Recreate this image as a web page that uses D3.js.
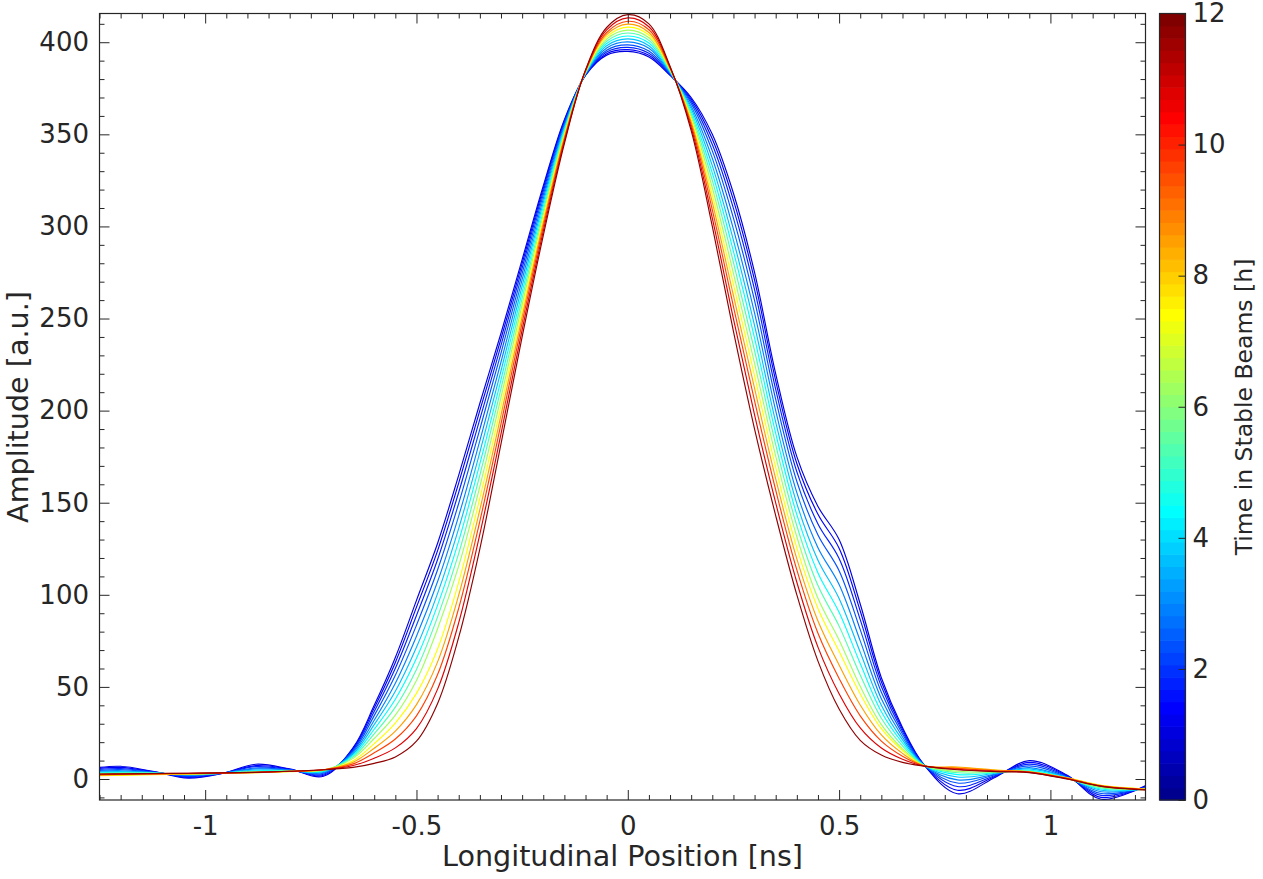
<!DOCTYPE html>
<html><head><meta charset="utf-8">
<script src="https://cdn.jsdelivr.net/npm/d3@7"></script>
<style>
body{margin:0;background:#fff;}
svg text{font-family:"DejaVu Sans",sans-serif;fill:#262626;}
</style>
</head><body>
<svg id="chart" width="1263" height="879"></svg>
<script>
// ---- data ----
const positions = [-1.25,-1.2,-1.12,-1.04,-0.96,-0.88,-0.8,-0.72,-0.65,-0.6,-0.55,-0.5,-0.45,-0.4,-0.35,-0.3,-0.25,-0.2,-0.15,-0.1,-0.05,0,0.05,0.1,0.15,0.2,0.25,0.3,0.35,0.4,0.45,0.5,0.55,0.6,0.65,0.7,0.78,0.87,0.95,1.04,1.12,1.23];
const times = [1.1,1.4,1.8,2.3,2.9,3.6,4.4,5.3,6.3,7.4,8.5,9.6,10.7,11.8];
const s01 = [6.3,6.9,4.0,0.5,3.0,8.0,5.5,1.5,17,40,66,97,128,165,204,242,282,322,358,382,393,395,392,382,370,350,318,275,220,175,148,130,95,55,28,8,-8,1,10,2,-11,-3];
const s02 = [5.8,6.3,3.9,0.9,3.0,7.3,5.3,2.0,16.5,38.5,63.3,93.3,124,160.8,200.1,239,279.9,320.7,357.4,382.2,393.8,396,392.9,382.3,369.1,347.5,314.3,270.8,216.2,171.3,143.7,125.3,91.2,52.8,27,8,-6.1,1.5,9.0,1.7,-10.0,-3.5];
const s03 = [5.2,5.7,3.7,1.3,3.1,6.7,5.1,2.6,15.9,36.6,60.1,88.8,119.2,155.7,195.4,235.4,277.4,319,356.6,382.3,394.7,397.2,394,382.6,368,344.5,309.8,265.7,211.5,166.8,138.5,119.7,86.5,50.2,25.8,7.9,-4.1,1.9,8.1,1.4,-8.9,-3.9];
const s04 = [4.7,5.1,3.6,1.7,3.1,6.0,4.9,3.1,15.2,34.4,56.3,83.5,113.6,149.7,190,231.2,274.4,317.1,355.7,382.5,395.7,398.6,395.2,382.9,366.8,341,304.5,259.7,206.1,161.5,132.5,113.1,81.1,47.1,24.4,7.8,-2.2,2.4,7.1,1.1,-7.9,-4.4];
const s05 = [4.2,4.5,3.4,2.0,3.2,5.5,4.8,3.5,14.4,31.9,52,77.5,107.2,142.9,183.7,226.4,271.1,315,354.6,382.8,396.9,400.2,396.7,383.3,365.3,337,298.5,252.9,200,155.5,125.6,105.6,75,43.6,22.8,7.7,-0.5,2.7,6.2,0.8,-6.9,-4.7];
const s06 = [3.8,4.0,3.3,2.3,3.2,4.9,4.6,4.0,13.6,29.5,47.6,71.5,100.8,136.1,177.5,221.6,267.7,312.8,353.6,383,398.1,401.8,398.1,383.7,363.9,333,292.5,246.1,193.8,149.5,118.8,98,68.8,40,21.2,7.7,1.1,3.1,5.5,0.6,-6.1,-5.1];
const s07 = [3.4,3.6,3.2,2.6,3.2,4.5,4.5,4.3,12.8,27,43.3,65.5,94.4,129.3,171.2,216.8,264.4,310.7,352.5,383.3,399.3,403.4,399.6,384.1,362.4,329,286.5,239.3,187.7,143.5,111.9,90.5,62.7,36.5,19.6,7.6,2.4,3.4,4.8,0.4,-5.4,-5.4];
const s08 = [3.1,3.3,3.1,2.8,3.3,4.1,4.4,4.6,12,24.5,39,59.5,88,122.5,165,212,261,308.5,351.5,383.5,400.5,405,401,384.5,361,325,280.5,232.5,181.5,137.5,105,83,56.5,33,18,7.5,3.4,3.6,4.3,0.2,-4.8,-5.6];
const s09 = [2.9,3.0,3.1,2.9,3.3,3.9,4.3,4.8,11.2,22,34.7,53.5,81.6,115.7,158.8,207.2,257.6,306.3,350.5,383.7,401.7,406.6,402.4,384.9,359.6,321,274.5,225.7,175.3,131.5,98.1,75.5,50.3,29.5,16.4,7.4,4.2,3.8,3.9,0.1,-4.4,-5.8];
const s10 = [1.8,2.0,2.3,2.6,3.0,3.4,4.0,4.9,9.9,19.2,30.4,46.5,70.6,106.9,152.5,202.4,254.3,304.2,349.4,384,402.9,408.2,403.9,385.3,358.1,317,268.5,218.9,169.2,125.5,92.6,69.3,46.2,27.3,15.5,7.3,6.2,4.8,3.9,0.6,-3.4,-5.4];
const s11 = [2.1,2.3,2.6,2.8,3.1,3.5,4.1,5.0,9.1,16.7,26,40.4,63.6,99.9,146.3,197.6,250.9,302,348.4,384.2,404.1,409.8,405.3,385.7,356.7,313,262.5,212.1,163,119.5,85.8,61.9,40.2,23.9,13.9,7.3,6.5,4.9,3.9,0.5,-3.6,-5.6];
const s12 = [2.4,2.5,2.8,3.0,3.2,3.6,4.2,5.0,8.2,14.2,21.7,34.3,56.7,92.8,140,192.8,247.6,299.9,347.3,384.5,405.3,411.4,406.8,386.1,355.2,309,256.5,205.3,156.9,113.5,79.1,54.6,34.3,20.6,12.4,7.2,5.8,4.5,3.7,0.3,-3.8,-5.8];
const s13 = [2.6,2.7,2.9,3.1,3.3,3.6,4.2,5.0,7.3,11.3,16.9,27.4,48.8,84.9,133,187.4,243.8,297.4,346.2,384.7,406.7,413.2,408.4,386.6,353.6,304.5,249.8,197.7,149.9,106.8,71.6,46.3,27.7,16.8,10.7,7.1,5.3,4.2,3.6,0.1,-3.9,-5.9];
const s14 = [2.7,2.8,3.0,3.1,3.3,3.6,4.2,5.0,6.3,8.5,12,20.5,41,77,125,182,240,295,345,385,408,415,410,387,352,300,243,190,143,100,64,38,21,13,9,7,5,4,3.5,0,-4,-6];
const amplitudes = [s01,s02,s03,s04,s05,s06,s07,s08,s09,s10,s11,s12,s13,s14];

const xTicks = [-1,-0.5,0,0.5,1];
const xTickLabels = ["-1","-0.5","0","0.5","1"];
const yTicks = [0,50,100,150,200,250,300,350,400];
const cbTicks = [0,2,4,6,8,10,12];
const xLabel = "Longitudinal Position [ns]";
const yLabel = "Amplitude [a.u.]";
const cbLabel = "Time in Stable Beams [h]";

// ---- MATLAB-like jet(64) colormap ----
function jetMap(m){
  const n = Math.ceil(m/4);
  const u = [];
  for(let i=1;i<=n;i++) u.push(i/n);
  for(let i=0;i<n-1;i++) u.push(1);
  for(let i=n;i>=1;i--) u.push(i/n);
  const gOff = Math.ceil(n/2) - (m%4===1?1:0);
  const J = Array.from({length:m},()=>[0,0,0]);
  u.forEach((val,k)=>{
    const g = gOff + k + 1, r = g + n, b = g - n;
    if(r<=m) J[r-1][0]=val;
    if(g<=m) J[g-1][1]=val;
    if(b>=1) J[b-1][2]=val;
  });
  return J.map(c=>d3.rgb(c[0]*255,c[1]*255,c[2]*255).formatHex());
}
const cmap = jetMap(64);
const tMax = 12;
const colorOf = t => cmap[Math.max(0,Math.min(63,Math.floor(t/tMax*64)))];

// ---- layout ----
const L=99.5, R=1145.5, T=13.5, B=800;
const svg = d3.select("#chart");
const x = d3.scaleLinear().domain([-1.25,1.225]).range([L,R]);
const y = d3.scaleLinear().domain([-11.4,415.6]).range([B,T]);
const axisCol = "#262626";

svg.append("defs").append("clipPath").attr("id","clip")
  .append("rect").attr("x",L).attr("y",T).attr("width",R-L).attr("height",B-T);

// lines
const line = d3.line().x((d,i)=>x(positions[i])).y(d=>y(d)).curve(d3.curveCatmullRom.alpha(0.5));
const gLines = svg.append("g").attr("clip-path","url(#clip)");
amplitudes.forEach((arr,k)=>{
  gLines.append("path").attr("d",line(arr)).attr("fill","none")
    .attr("stroke",colorOf(times[k])).attr("stroke-width",1.15);
});

// axes
const xMinor = d3.range(-125,123,5).map(v=>v/100).filter(v=>!xTicks.some(t=>Math.abs(t-v)<1e-9));
const yMinor = d3.range(-10,416,10).filter(v=>v%50!==0);

function styleAxis(g){
  g.select(".domain").remove();
  g.selectAll("line").attr("stroke",axisCol);
  g.selectAll("text").attr("fill",axisCol).style("font-size","26px").style("font-family","DejaVu Sans");
}
// bottom
svg.append("g").attr("transform",`translate(0,${B})`)
  .call(d3.axisBottom(x).tickValues(xTicks).tickFormat((d,i)=>xTickLabels[i]).tickSizeInner(-10).tickSizeOuter(0).tickPadding(16.5)).call(styleAxis);
svg.append("g").attr("transform",`translate(0,${B})`)
  .call(d3.axisBottom(x).tickValues(xMinor).tickFormat("").tickSizeInner(-5).tickSizeOuter(0)).call(styleAxis);
// top
svg.append("g").attr("transform",`translate(0,${T})`)
  .call(d3.axisTop(x).tickValues(xTicks).tickFormat("").tickSizeInner(-10).tickSizeOuter(0)).call(styleAxis);
svg.append("g").attr("transform",`translate(0,${T})`)
  .call(d3.axisTop(x).tickValues(xMinor).tickFormat("").tickSizeInner(-5).tickSizeOuter(0)).call(styleAxis);
// left
svg.append("g").attr("transform",`translate(${L},0)`)
  .call(d3.axisLeft(y).tickValues(yTicks).tickSizeInner(-10).tickSizeOuter(0).tickPadding(10.5)).call(styleAxis);
svg.append("g").attr("transform",`translate(${L},0)`)
  .call(d3.axisLeft(y).tickValues(yMinor).tickFormat("").tickSizeInner(-5).tickSizeOuter(0)).call(styleAxis);
// right
svg.append("g").attr("transform",`translate(${R},0)`)
  .call(d3.axisRight(y).tickValues(yTicks).tickFormat("").tickSizeInner(-10).tickSizeOuter(0)).call(styleAxis);
svg.append("g").attr("transform",`translate(${R},0)`)
  .call(d3.axisRight(y).tickValues(yMinor).tickFormat("").tickSizeInner(-5).tickSizeOuter(0)).call(styleAxis);

svg.append("rect").attr("x",L).attr("y",T).attr("width",R-L).attr("height",B-T)
  .attr("fill","none").attr("stroke",axisCol).attr("stroke-width",1.2);

// axis labels
svg.append("text").attr("x",(L+R)/2).attr("y",866).attr("text-anchor","middle")
  .style("font-size","28.6px").text(xLabel);
svg.append("text").attr("transform",`translate(28,407) rotate(-90)`).attr("text-anchor","middle")
  .style("font-size","28.6px").text(yLabel);

// colorbar
const cbL=1159.5, cbR=1185.5;
const cy = d3.scaleLinear().domain([0,tMax]).range([B,T]);
const band = d3.scaleBand().domain(d3.range(64)).range([B,T]);
svg.append("g").selectAll("rect").data(cmap).join("rect")
  .attr("x",cbL).attr("width",cbR-cbL)
  .attr("y",(d,i)=>band(i)).attr("height",band.bandwidth()+0.6)
  .attr("fill",d=>d);
svg.append("g").attr("transform",`translate(${cbR},0)`)
  .call(d3.axisRight(cy).tickValues(cbTicks).tickSizeInner(-7).tickSizeOuter(0).tickPadding(7)).call(styleAxis);
svg.append("rect").attr("x",cbL).attr("y",T).attr("width",cbR-cbL).attr("height",B-T)
  .attr("fill","none").attr("stroke",axisCol).attr("stroke-width",1.2);
svg.append("text").attr("transform",`translate(1252,407) rotate(-90)`).attr("text-anchor","middle")
  .style("font-size","23.5px").text(cbLabel);
</script>
</body></html>
